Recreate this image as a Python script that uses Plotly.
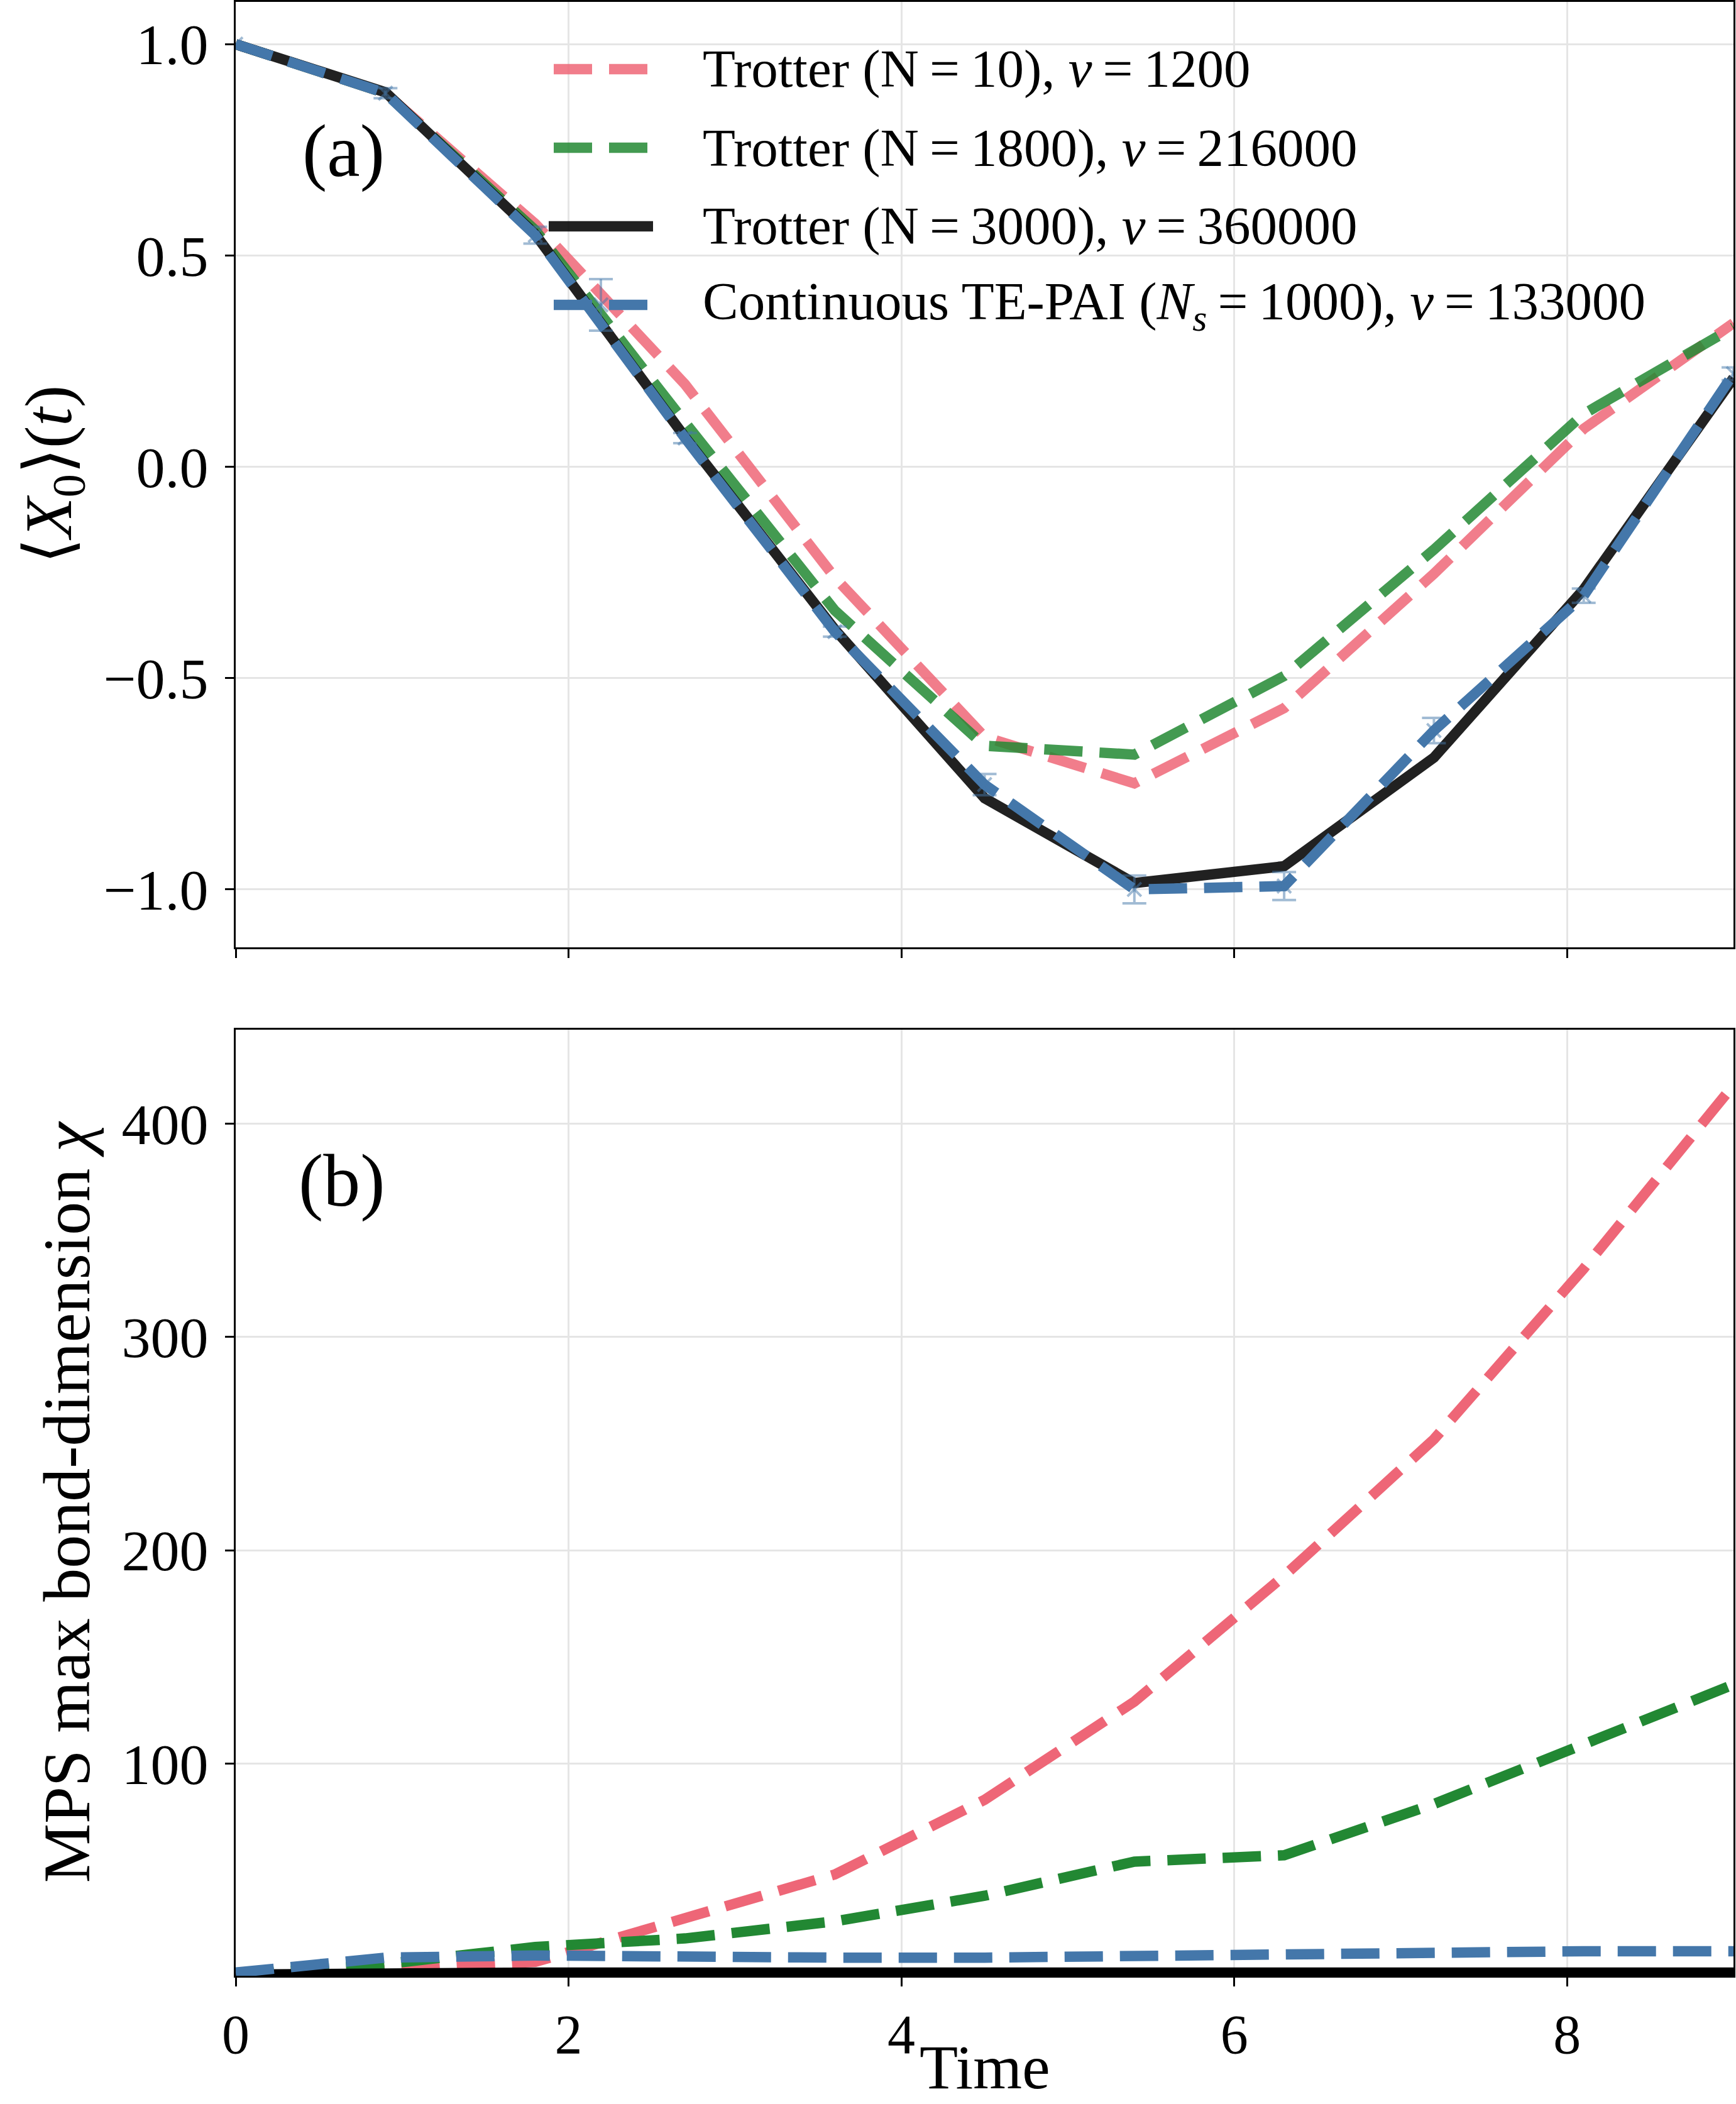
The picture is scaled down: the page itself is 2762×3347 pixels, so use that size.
import plotly.graph_objects as go

# ---------------- data ----------------
time = [0.0, 0.9, 1.8, 2.7, 3.6, 4.5, 5.4, 6.3, 7.2, 8.1, 9.0]

x0_trotter_n10 = [1.0, 0.884, 0.575, 0.195, -0.262, -0.639, -0.749, -0.571, -0.253, 0.09, 0.34]
x0_trotter_n1800 = [1.0, 0.884, 0.56, 0.105, -0.34, -0.66, -0.681, -0.495, -0.196, 0.125, 0.33]
x0_trotter_n3000 = [1.0, 0.886, 0.55, 0.07, -0.385, -0.784, -0.985, -0.945, -0.688, -0.29, 0.21]
x0_tepai = [1.0, 0.884, 0.548, 0.068, -0.39, -0.752, -1.0, -0.992, -0.624, -0.305, 0.22]
x0_tepai_err = [0.0, 0.012, 0.02, 0.012, 0.012, 0.025, 0.033, 0.033, 0.03, 0.017, 0.015]

chi_trotter_n10 = [1, 3, 7, 27, 48, 83, 129, 188, 252, 332, 418]
chi_trotter_n1800 = [1, 6, 14, 18, 26, 38, 54, 57, 81, 109, 137]
chi_trotter_n3000 = [1, 2, 2, 2, 2, 2, 2, 2, 2, 2, 2]
chi_tepai = [2, 9, 10, 9, 9, 9, 10, 10, 11, 12, 12]

EQ = "\u2009=\u2009"
legend_labels = [
    "Trotter (N" + EQ + "10), <i>ν</i>" + EQ + "1200",
    "Trotter (N" + EQ + "1800), <i>ν</i>" + EQ + "216000",
    "Trotter (N" + EQ + "3000), <i>ν</i>" + EQ + "360000",
    "Continuous TE-PAI (<i>N</i><sub><i>s</i></sub>" + EQ + "1000), <i>ν</i>" + EQ + "133000",
]
x_ticks = [0, 2, 4, 6, 8]
x_ticklabels = ["0", "2", "4", "6", "8"]
y1_ticks = [-1.0, -0.5, 0.0, 0.5, 1.0]
y1_ticklabels = ["−1.0", "−0.5", "0.0", "0.5", "1.0"]
y2_ticks = [100, 200, 300, 400]
y2_ticklabels = ["100", "200", "300", "400"]

# ---------------- style ----------------
FONT = "Liberation Serif"
W, H = 2762, 3347
LW = 16.5
DASH = "61px,27px"
PINK, GREEN, BLUE, BLACK = "#EE6677", "#228833", "#4477AA", "#000000"
PINK_A = "rgba(238,102,119,0.85)"
GREEN_A = "rgba(34,136,51,0.85)"
BLACK_A = "rgba(0,0,0,0.87)"
BLUE_ERR = "rgba(68,119,170,0.5)"
GRID = "#e5e5e5"

fig = go.Figure()

# top panel
fig.add_trace(go.Scatter(x=time, y=x0_trotter_n10, mode="lines", xaxis="x", yaxis="y",
                         line=dict(color=PINK_A, width=LW, dash=DASH), showlegend=False))
fig.add_trace(go.Scatter(x=time, y=x0_trotter_n1800, mode="lines", xaxis="x", yaxis="y",
                         line=dict(color=GREEN_A, width=LW, dash=DASH), showlegend=False))
fig.add_trace(go.Scatter(x=time, y=x0_trotter_n3000, mode="lines", xaxis="x", yaxis="y",
                         line=dict(color=BLACK_A, width=LW), showlegend=False))
fig.add_trace(go.Scatter(x=time, y=x0_tepai, mode="lines+markers", xaxis="x", yaxis="y",
                         line=dict(color=BLUE, width=LW, dash=DASH),
                         marker=dict(symbol="x-thin", size=22, color=BLUE_ERR,
                                     line=dict(width=4, color=BLUE_ERR)),
                         error_y=dict(type="data", array=x0_tepai_err, color=BLUE_ERR,
                                      thickness=4, width=19),
                         showlegend=False))

# bottom panel
fig.add_trace(go.Scatter(x=time, y=chi_trotter_n10, mode="lines", xaxis="x2", yaxis="y2",
                         line=dict(color=PINK, width=LW, dash=DASH), showlegend=False))
fig.add_trace(go.Scatter(x=time, y=chi_trotter_n1800, mode="lines", xaxis="x2", yaxis="y2",
                         line=dict(color=GREEN, width=LW, dash=DASH), showlegend=False))
fig.add_trace(go.Scatter(x=time, y=chi_trotter_n3000, mode="lines", xaxis="x2", yaxis="y2",
                         line=dict(color=BLACK, width=LW), showlegend=False))
fig.add_trace(go.Scatter(x=time, y=chi_tepai, mode="lines", xaxis="x2", yaxis="y2",
                         line=dict(color=BLUE, width=LW, dash=DASH), showlegend=False))

# ---------------- layout ----------------
L, R, T, B = 375, 4, 3, 204
plot_h = H - T - B
top_lo = (H - B - 1507) / plot_h
bot_hi = (H - B - 1638) / plot_h

axis_common = dict(showline=True, linecolor="black", linewidth=3, mirror=True,
                   ticks="outside", ticklen=14, tickwidth=3, tickcolor="black",
                   showgrid=True, gridcolor=GRID, gridwidth=3, zeroline=False,
                   automargin=False,
                   tickfont=dict(family=FONT, size=92, color="black"))

fig.update_layout(
    width=W, height=H,
    margin=dict(l=L, r=R, t=T, b=B, pad=0, autoexpand=False),
    paper_bgcolor="white", plot_bgcolor="white",
    font=dict(family=FONT, color="black"),
    showlegend=False,
    xaxis=dict(axis_common, anchor="y", domain=[0, 1], range=[0, 9],
               tickvals=x_ticks, ticktext=x_ticklabels, showticklabels=False),
    yaxis=dict(axis_common, anchor="x", domain=[top_lo, 1], range=[-1.137, 1.1],
               tickvals=y1_ticks, ticktext=y1_ticklabels, ticklabelstandoff=8,
               title=dict(text="⟨<i>X</i><sub>0</sub>⟩(<i>t</i>)",
                          font=dict(family=FONT, size=106), standoff=16)),
    xaxis2=dict(axis_common, anchor="y2", domain=[0, 1], range=[0, 9], matches="x",
                tickvals=x_ticks, ticktext=x_ticklabels, ticklabelstandoff=0,
                tickfont=dict(family=FONT, size=88, color="black")),
    yaxis2=dict(axis_common, anchor="x2", domain=[0, bot_hi], range=[0.5, 444],
                tickvals=y2_ticks, ticktext=y2_ticklabels, ticklabelstandoff=8,
                title=dict(text="MPS max bond-dimension <i>χ</i>",
                           font=dict(family=FONT, size=106), standoff=16)),
)

# x-axis title of the bottom panel (placed just under the tick labels)
fig.add_annotation(text="Time", xref="paper", yref="paper", x=0.5, y=-(3231 - 3143) / plot_h,
                   xanchor="center", yanchor="top", showarrow=False,
                   font=dict(family=FONT, size=100, color="black"))

# panel labels
fig.add_annotation(text="(a)", xref="x domain", yref="y domain", x=0.072, y=0.842,
                   xanchor="center", yanchor="middle", showarrow=False,
                   font=dict(family=FONT, size=118, color="black"))
fig.add_annotation(text="(b)", xref="x2 domain", yref="y2 domain", x=0.071, y=0.8405,
                   xanchor="center", yanchor="middle", showarrow=False,
                   font=dict(family=FONT, size=118, color="black"))

# ---------------- hand-drawn legend in top panel ----------------
TOP_PX = 1504.0   # top panel height (px)
PLOT_W = 2383.0   # plot width (px)


def dx(px):
    return (px - L) / PLOT_W


def dy(py):
    return (1507 - py) / TOP_PX


row_y = [110, 235, 360, 485]
hx0, hx1 = 881, 1031
text_x = 1116
handle_styles = [
    dict(color=PINK_A, width=LW, dash=DASH),
    dict(color=GREEN_A, width=LW, dash=DASH),
    dict(color=BLACK_A, width=LW),
    dict(color=BLUE, width=LW, dash=DASH),
]
for ry, lab, st in zip(row_y, legend_labels, handle_styles):
    x0, x1 = hx0, hx1
    if "dash" not in st:
        x0, x1 = hx0 - 8, hx1 + 8
    fig.add_shape(type="line", xref="x domain", yref="y domain",
                  x0=dx(x0), x1=dx(x1), y0=dy(ry), y1=dy(ry), line=st, layer="above")
    fig.add_annotation(text=lab, xref="x domain", yref="y domain", x=dx(text_x), y=dy(ry),
                       xanchor="left", yanchor="middle", showarrow=False,
                       font=dict(family=FONT, size=85, color="black"))

# errorbar glyph on the TE-PAI legend handle
cx, cy = 956, row_y[3]
err_style = dict(color=BLUE_ERR, width=4)
fig.add_shape(type="line", xref="x domain", yref="y domain", x0=dx(cx), x1=dx(cx),
              y0=dy(cy - 41), y1=dy(cy + 41), line=err_style, layer="above")
for cap in (cy - 41, cy + 41):
    fig.add_shape(type="line", xref="x domain", yref="y domain", x0=dx(cx - 19), x1=dx(cx + 19),
                  y0=dy(cap), y1=dy(cap), line=err_style, layer="above")
for sgn in (1, -1):
    fig.add_shape(type="line", xref="x domain", yref="y domain", x0=dx(cx - 11), x1=dx(cx + 11),
                  y0=dy(cy - 11 * sgn), y1=dy(cy + 11 * sgn), line=err_style, layer="above")

fig.write_html("out.html")
